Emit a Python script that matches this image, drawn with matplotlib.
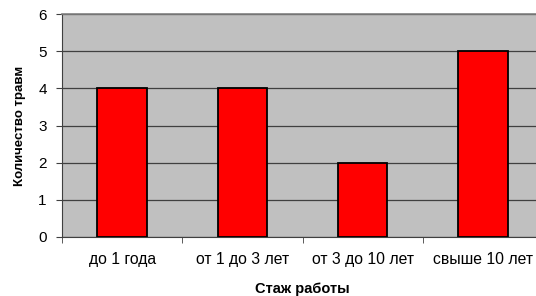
import matplotlib

matplotlib.use("Agg")
import matplotlib.pyplot as plt
import numpy as np

categories = ["до 1 года", "от 1 до 3 лет", "от 3 до 10 лет", "свыше 10 лет"]
injuries = [4, 4, 2, 5]
y_ticks = [0, 1, 2, 3, 4, 5, 6]

plt.rcParams["font.family"] = ["Liberation Sans", "DejaVu Sans"]

fig = plt.figure(figsize=(5.36, 2.96), dpi=100)
ax = fig.add_axes([62 / 536, 59 / 296, 481 / 536, 223 / 296])
ax.set_facecolor("#c0c0c0")

x = np.arange(len(categories))
ax.bar(x, injuries, width=0.41, color="#ff0000", edgecolor="black", linewidth=1.3, zorder=3)

ax.set_xlim(-0.5, len(categories) - 0.5)
ax.set_ylim(0, 6)
ax.set_yticks(y_ticks)
ax.yaxis.grid(True, color="#404040", linewidth=0.9, zorder=1)
ax.set_axisbelow(True)

ax.set_xticks(x)
ax.set_xticklabels(categories, fontsize=11.3)
ax.set_xticks(np.arange(len(categories) + 1) - 0.5, minor=True)
ax.tick_params(axis="x", which="major", length=0, pad=11)
ax.tick_params(axis="x", which="minor", length=4, color="#404040", direction="out")
ax.tick_params(axis="y", length=4, color="#404040", labelsize=11, pad=7)

ax.spines["right"].set_visible(False)
ax.spines["top"].set_color("#808080")
ax.spines["top"].set_linewidth(1.2)
ax.spines["left"].set_color("#404040")
ax.spines["bottom"].set_color("#404040")

ax.set_ylabel("Количество травм", fontsize=9.5, fontweight="bold", labelpad=9)
fig.text(302 / 536, 1 - 289 / 296, "Стаж работы", fontsize=10.5, fontweight="bold",
         ha="center", va="center")

fig.savefig("out.png", dpi=100)
